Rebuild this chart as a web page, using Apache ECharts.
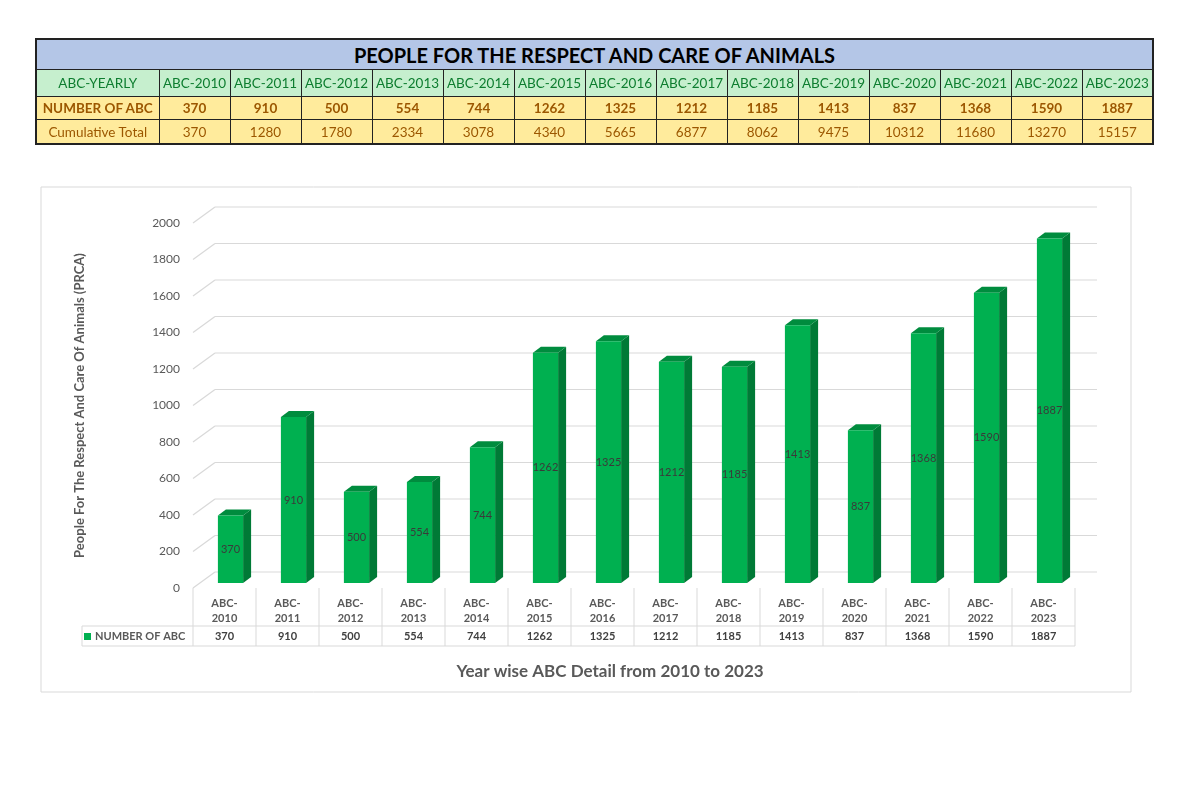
<!DOCTYPE html>
<html><head><meta charset="utf-8">
<script src="https://cdn.jsdelivr.net/npm/echarts@6/dist/echarts.min.js"></script>
<style>
html,body{margin:0;padding:0;background:#fff;}
#chart{position:absolute;left:0;top:0;width:1200px;height:800px;}
#tbl{position:absolute;left:35px;top:38px;border-collapse:collapse;font-family:Lato,'Open Sans',sans-serif;table-layout:fixed;width:1117px;border:2px solid #222;}
#tbl td{border:1px solid #222;text-align:center;padding:0;white-space:nowrap;overflow:hidden;}
#tbl .title td{background:#B4C6E7;font-weight:bold;font-size:20px;height:29px;color:#000;}
#tbl .hdr td{background:#C6EFCE;color:#0d7d2f;font-size:13.5px;height:26px;}
#tbl .num td{background:#FFEB9C;color:#9C5700;font-weight:bold;font-size:13.5px;height:22px;}
#tbl .cum td{background:#FFEB9C;color:#9C5700;font-size:13.5px;height:23px;}
</style>
</head><body>
<div id="chart"></div>
<table id="tbl"></table>
<script>
const tableTitle = 'PEOPLE FOR THE RESPECT AND CARE OF ANIMALS';
const categories = ['ABC-2010','ABC-2011','ABC-2012','ABC-2013','ABC-2014','ABC-2015','ABC-2016','ABC-2017','ABC-2018','ABC-2019','ABC-2020','ABC-2021','ABC-2022','ABC-2023'];
const abcCounts = [370,910,500,554,744,1262,1325,1212,1185,1413,837,1368,1590,1887];
const cumulativeTotals = [370,1280,1780,2334,3078,4340,5665,6877,8062,9475,10312,11680,13270,15157];
const yTicks = [0,200,400,600,800,1000,1200,1400,1600,1800,2000];
const seriesName = 'NUMBER OF ABC';
const rowHeaders = ['ABC-YEARLY','NUMBER OF ABC','Cumulative Total'];
const chartTitle = 'Year wise ABC Detail from 2010 to 2023';
const yAxisTitle = 'People For The Respect And Care Of Animals (PRCA)';

// ---- top table ----
(function(){
  const t = document.getElementById('tbl');
  let html = '<colgroup><col style="width:123px">' + categories.map(()=>'<col style="width:71px">').join('') + '</colgroup>';
  html += '<tr class="title"><td colspan="' + (categories.length+1) + '">' + tableTitle + '</td></tr>';
  html += '<tr class="hdr"><td>' + rowHeaders[0] + '</td>' + categories.map(c=>'<td>'+c+'</td>').join('') + '</tr>';
  html += '<tr class="num"><td>' + rowHeaders[1] + '</td>' + abcCounts.map(c=>'<td>'+c+'</td>').join('') + '</tr>';
  html += '<tr class="cum"><td>' + rowHeaders[2] + '</td>' + cumulativeTotals.map(c=>'<td>'+c+'</td>').join('') + '</tr>';
  t.innerHTML = html;
})();

// ---- chart ----
const FONT = 'Lato, "Open Sans", sans-serif';
const GRID_COLOR = '#d9d9d9';
const DEPTH_X = 22, DEPTH_Y = -16;

function renderGrid(params, api){
  const cs = params.coordSys;
  const y = api.coord([0, api.value(1)])[1];
  return {type:'group', children:[
    {type:'line', shape:{x1:cs.x, y1:y, x2:cs.x+DEPTH_X, y2:y+DEPTH_Y}, style:{stroke:GRID_COLOR, lineWidth:1.2}},
    {type:'line', shape:{x1:cs.x+DEPTH_X, y1:y+DEPTH_Y, x2:cs.x+cs.width+DEPTH_X, y2:y+DEPTH_Y}, style:{stroke:GRID_COLOR, lineWidth:1.2}}
  ]};
}

function renderBar(params, api){
  const i = api.value(0), v = api.value(1);
  const base = api.coord([i, 0]);
  const top = api.coord([i, v]);
  const bw = api.size([1, 0])[0] * 0.4;
  const ox = 6, oy = -5, dx = 8, dy = -6;
  const x0 = base[0] + ox - bw/2, x1 = x0 + bw;
  const yb = base[1] + oy, yt = top[1] + oy;
  return {type:'group', children:[
    {type:'polygon', shape:{points:[[x1,yt],[x1+dx,yt+dy],[x1+dx,yb+dy],[x1,yb]]}, style:{fill:'#007A36'}},
    {type:'polygon', shape:{points:[[x0,yt],[x0+dx,yt+dy],[x1+dx,yt+dy],[x1,yt]]}, style:{fill:'#008C3E'}},
    {type:'rect', shape:{x:x0, y:yt, width:bw, height:yb-yt}, style:{fill:'#00B050'}},
    {type:'text', x:(x0+x1)/2, y:(yt+yb)/2, style:{text:String(v), align:'center', verticalAlign:'middle', fill:'#3a3a3a', font:'11px ' + FONT}}
  ]};
}

function renderTable(params, api){
  const cs = params.coordSys;
  const i = api.value(0);
  const c = api.coord([i, 0]);
  const w = api.size([1, 0])[0];
  const xl = c[0] - w/2, xr = c[0] + w/2;
  const y0 = cs.y + cs.height;
  const yMid = y0 + 38, yBot = y0 + 58;
  const st = {stroke:GRID_COLOR, lineWidth:1};
  const ch = [
    {type:'line', shape:{x1:xr, y1:y0, x2:xr, y2:yBot}, style:st},
    {type:'line', shape:{x1:xl, y1:yMid, x2:xr, y2:yMid}, style:st},
    {type:'line', shape:{x1:xl, y1:yBot, x2:xr, y2:yBot}, style:st},
    {type:'text', x:c[0], y:(yMid+yBot)/2, style:{text:String(abcCounts[i]), align:'center', verticalAlign:'middle', fill:'#404040', font:'bold 11px ' + FONT}}
  ];
  if (i === 0) {
    const lx = cs.x - 111;
    ch.push({type:'line', shape:{x1:xl, y1:y0, x2:xl, y2:yBot}, style:st});
    ch.push({type:'line', shape:{x1:lx, y1:yMid, x2:xl, y2:yMid}, style:st});
    ch.push({type:'line', shape:{x1:lx, y1:yBot, x2:xl, y2:yBot}, style:st});
    ch.push({type:'line', shape:{x1:lx, y1:yMid, x2:lx, y2:yBot}, style:st});
  }
  return {type:'group', children:ch};
}

const chart = echarts.init(document.getElementById('chart'), null, {renderer:'canvas'});
chart.setOption({
  animation:false,
  backgroundColor:'#fff',
  textStyle:{fontFamily:FONT},
  graphic:[{type:'rect', shape:{x:41, y:187, width:1090, height:505}, style:{fill:'none', stroke:GRID_COLOR, lineWidth:1}, z:-10}],
  title:{text:chartTitle, left:605, top:658, textAlign:'center', textStyle:{fontFamily:FONT, fontSize:17, fontWeight:'bold', color:'#595959'}},
  legend:{data:[{name:seriesName, icon:'rect'}], left:84, top:631, padding:0, itemWidth:7, itemHeight:7, itemGap:4, textStyle:{fontFamily:FONT, fontSize:11, fontWeight:'bold', color:'#595959', padding:[0,0,0,-1]}},
  grid:{left:193, right:125, top:223, bottom:212, containLabel:false},
  xAxis:{type:'category', data:categories, axisLine:{show:false}, axisTick:{show:false}, splitLine:{show:false},
    axisLabel:{formatter:v=>v.replace('-', '-\n'), fontFamily:FONT, fontSize:11, fontWeight:'bold', color:'#595959', lineHeight:15, margin:8, interval:0}},
  yAxis:{type:'value', min:0, max:2000, interval:200, axisLine:{show:false}, axisTick:{show:false}, splitLine:{show:false},
    axisLabel:{formatter:v=>String(v), fontFamily:FONT, fontSize:12, color:'#595959', margin:13},
    name:yAxisTitle, nameLocation:'middle', nameGap:107, nameRotate:90,
    nameTextStyle:{fontFamily:FONT, fontSize:13, fontWeight:'bold', color:'#595959'}},
  series:[
    {type:'custom', name:'grid', silent:true, renderItem:renderGrid, data:yTicks.map(v=>[0,v]), z:1},
    {type:'custom', name:seriesName, renderItem:renderBar, itemStyle:{color:'#00B050'}, data:abcCounts.map((v,i)=>[i,v]), z:3},
    {type:'custom', name:'table', silent:true, renderItem:renderTable, data:categories.map((c,i)=>[i,0]), z:2}
  ]
});
</script>
</body></html>
